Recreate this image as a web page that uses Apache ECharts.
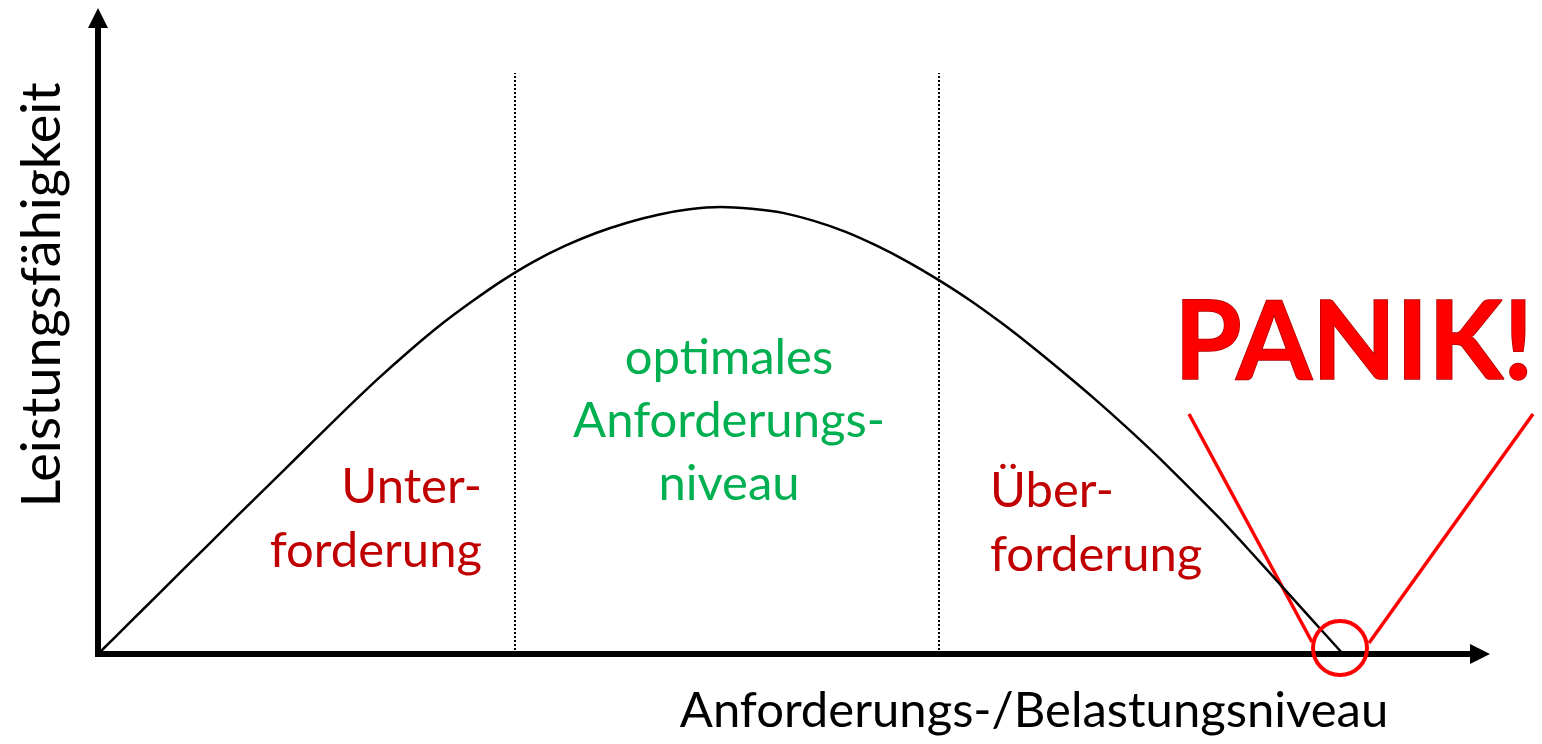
<!DOCTYPE html>
<html>
<head>
<meta charset="utf-8">
<script src="https://cdn.jsdelivr.net/npm/echarts@6/dist/echarts.min.js"></script>
<style>
  html, body { margin: 0; padding: 0; background: #fff; }
  #main { width: 1542px; height: 744px; }
</style>
</head>
<body>
<div id="main"></div>
<script>
// Kurve: Belastung (0..100) -> Leistungsfähigkeit (Spitze = 100)
var belastung = [0, 2.5, 5, 7.5, 10, 12.5, 15, 17.5, 20, 22.5, 25, 27.5, 30, 32.5, 35, 37.5, 40, 42.5, 45, 47.5,
                 50, 52.5, 55, 57.5, 60, 62.5, 65, 67.5, 70, 72.5, 75, 77.5, 80, 82.5, 85, 87.5, 90, 92.5, 95, 97.5, 100];
var leistung  = [0, 6.9, 13.8, 20.7, 27.6, 34.5, 41.3, 48.2, 55, 61.6, 67.8, 73.6, 78.8, 83.6, 87.8, 91.3, 94.2, 96.5, 98.3, 99.5,
                 100, 99.6, 98.7, 96.9, 94.5, 91.4, 87.8, 83.7, 79.2, 74.2, 68.8, 63.1, 57.2, 51, 44.5, 37.6, 30.6, 23.1, 15.4, 7.7, 0];

// Bereichsgrenzen (gepunktete Linien)
var grenzen = [33.5, 67.5];
var grenzeOben = 130;

// Achsenbereich
var xMax = 111;
var yMax = 142.3;

var font = 'Lato, "Open Sans", sans-serif';

var myChart = echarts.init(document.getElementById('main'));

var kurve = belastung.map(function (x, i) { return [x, leistung[i]]; });

var option = {
  animation: false,
  grid: { left: 98, right: 62, top: 18, bottom: 90 },
  xAxis: {
    type: 'value', min: 0, max: xMax,
    splitLine: { show: false },
    axisTick: { show: false },
    axisLabel: { show: false },
    axisLine: {
      lineStyle: { color: '#000', width: 6, cap: 'square' },
      symbol: ['none', 'triangle'],
      symbolSize: [20, 20]
    }
  },
  yAxis: {
    type: 'value', min: 0, max: yMax,
    splitLine: { show: false },
    axisTick: { show: false },
    axisLabel: { show: false },
    axisLine: {
      lineStyle: { color: '#000', width: 6, cap: 'square' },
      symbol: ['none', 'triangle'],
      symbolSize: [20, 20]
    }
  },
  series: [{
    type: 'line',
    data: kurve,
    smooth: 0.3,
    showSymbol: false,
    lineStyle: { color: '#000', width: 2.5 },
    z: 3,
    markLine: {
      silent: true,
      symbol: ['none', 'none'],
      label: { show: false },
      lineStyle: { color: '#000', type: 'dotted', width: 2 },
      data: grenzen.map(function (g) {
        return [{ coord: [g, 0] }, { coord: [g, grenzeOben] }];
      })
    }
  }],
  graphic: [
    // Achsenbeschriftungen
    {
      type: 'text', x: 43, y: 295, rotation: Math.PI / 2,
      style: { text: 'Leistungsfähigkeit', font: '54px ' + font, fill: '#000', align: 'center', verticalAlign: 'middle' }
    },
    {
      type: 'text', x: 1034, y: 711,
      style: { text: 'Anforderungs-/Belastungsniveau', font: '49px ' + font, fill: '#000', align: 'center', verticalAlign: 'middle' }
    },
    // Bereiche
    {
      type: 'text', x: 482, y: 519,
      style: { text: 'Unter-\nforderung', font: '49px ' + font, fill: '#C00000', align: 'right', verticalAlign: 'middle', lineHeight: 64 }
    },
    {
      type: 'text', x: 729, y: 421,
      style: { text: 'optimales\nAnforderungs-\nniveau', font: '49px ' + font, fill: '#00B050', align: 'center', verticalAlign: 'middle', lineHeight: 63 }
    },
    {
      type: 'text', x: 990, y: 523,
      style: { text: 'Über-\nforderung', font: '49px ' + font, fill: '#C00000', align: 'left', verticalAlign: 'middle', lineHeight: 64 }
    },
    // PANIK!
    {
      type: 'text', x: 1354, y: 344,
      style: {
        text: 'PANIK!', font: 'bold 109px ' + font,
        fill: '#ff0000',
        stroke: '#b00000', lineWidth: 1.5,
        align: 'center', verticalAlign: 'middle',
        shadowBlur: 6, shadowColor: 'rgba(0,0,0,0.45)', shadowOffsetY: 4
      }
    },
    { type: 'line', shape: { x1: 1189, y1: 414, x2: 1312, y2: 642 }, style: { stroke: '#ff0000', lineWidth: 3.5 } },
    { type: 'line', shape: { x1: 1533, y1: 414, x2: 1369, y2: 643 }, style: { stroke: '#ff0000', lineWidth: 3.5 } },
    { type: 'circle', shape: { cx: 1340, cy: 648, r: 27 }, style: { fill: 'none', stroke: '#ff0000', lineWidth: 4 }, z: 10 }
  ]
};

myChart.setOption(option);
</script>
</body>
</html>
